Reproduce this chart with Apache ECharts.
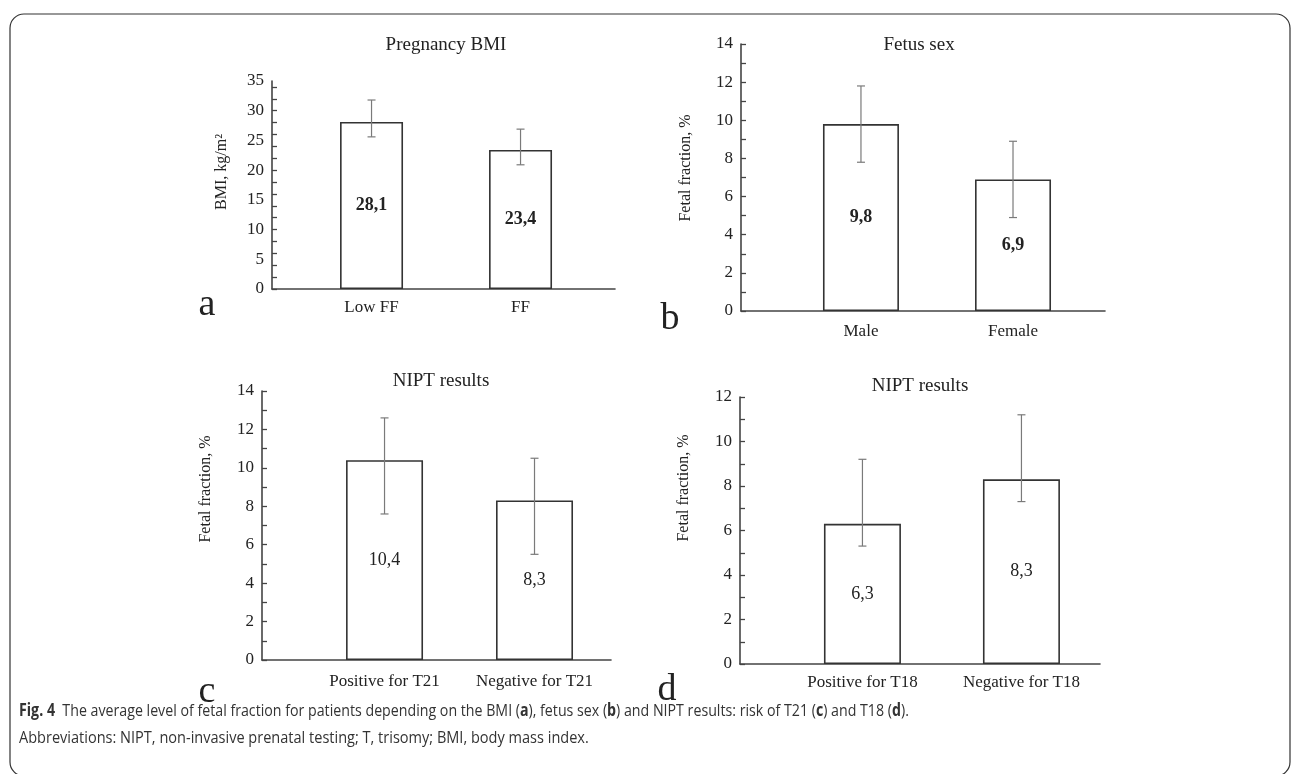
<!DOCTYPE html>
<html>
<head>
<meta charset="utf-8">
<script src="https://cdn.jsdelivr.net/npm/echarts@6/dist/echarts.min.js"></script>
<style>
html,body{margin:0;padding:0;background:#fff;}
#chart{width:1293px;height:774px;}
</style>
</head>
<body>
<div id="chart"></div>
<script>
// ---- data ----
const titles = ['Pregnancy BMI', 'Fetus sex', 'NIPT results', 'NIPT results'];
const yNames = ['BMI, kg/m²', 'Fetal fraction, %', 'Fetal fraction, %', 'Fetal fraction, %'];
const panelLetters = ['a', 'b', 'c', 'd'];

const catsA = ['Low FF', 'FF'];
const meanA = [28.1, 23.4];
const hiA = [31.8, 26.9];
const loA = [25.6, 20.9];

const catsB = ['Male', 'Female'];
const meanB = [9.8, 6.9];
const hiB = [11.8, 8.9];
const loB = [7.8, 4.9];

const catsC = ['Positive for T21', 'Negative for T21'];
const meanC = [10.4, 8.3];
const hiC = [12.6, 10.5];
const loC = [7.6, 5.5];

const catsD = ['Positive for T18', 'Negative for T18'];
const meanD = [6.3, 8.3];
const hiD = [9.2, 11.2];
const loD = [5.3, 7.3];

const labelsA = [0, 5, 10, 15, 20, 25, 30, 35];
const ticksA = [0, 2, 4, 6, 8, 10, 12, 14, 16, 18, 20, 22, 24, 26, 28, 30, 32, 34];
const labelsB = [0, 2, 4, 6, 8, 10, 12, 14];
const ticksB = [0, 1, 2, 3, 4, 5, 6, 7, 8, 9, 10, 11, 12, 13, 14];
const labelsC = [0, 2, 4, 6, 8, 10, 12, 14];
const ticksC = [0, 1, 2, 3, 4, 5, 6, 7, 8, 9, 10, 11, 12, 13, 14];
const labelsD = [0, 2, 4, 6, 8, 10, 12];
const ticksD = [0, 1, 2, 3, 4, 5, 6, 7, 8, 9, 10, 11, 12];

const captionLine1 = ['Fig. 4', 'The average level of fetal fraction for patients depending on the BMI (', 'a', '), fetus sex (', 'b', ') and NIPT results: risk of T21 (', 'c', ') and T18 (', 'd', ').'];
const captionLine2 = 'Abbreviations: NIPT, non-invasive prenatal testing; T, trisomy; BMI, body mass index.';

// ---- layout ----
const SERIF = '"Liberation Serif", "Times New Roman", serif';
const panels = [
  {cats: catsA, mean: meanA, hi: hiA, lo: loA, yMax: 35, labels: labelsA, ticks: ticksA,
   grid: {left: 272, top: 81, width: 343, height: 208}, xMin: -0.668, xMax: 1.634, barW: 63, lblMargin: 10, bold: true,
   title: [446, 45], name: [222, 172], letter: [207, 305]},
  {cats: catsB, mean: meanB, hi: hiB, lo: loB, yMax: 14, labels: labelsB, ticks: ticksB,
   grid: {left: 741, top: 44, width: 364, height: 267}, xMin: -0.789, xMax: 1.605, barW: 76, lblMargin: 12, bold: true,
   title: [919, 45], name: [686, 168], letter: [670, 319]},
  {cats: catsC, mean: meanC, hi: hiC, lo: loC, yMax: 14, labels: labelsC, ticks: ticksC,
   grid: {left: 262, top: 391, width: 349, height: 269}, xMin: -0.817, xMax: 1.51, barW: 77, lblMargin: 13, bold: false,
   title: [441, 381], name: [206, 489], letter: [207, 692]},
  {cats: catsD, mean: meanD, hi: hiD, lo: loD, yMax: 12, labels: labelsD, ticks: ticksD,
   grid: {left: 740, top: 397, width: 360, height: 267}, xMin: -0.770, xMax: 1.494, barW: 77, lblMargin: 10, bold: false,
   title: [920, 386], name: [684, 488], letter: [667, 690]}
];

const fmt = v => v.toFixed(1).replace('.', ',');

function errRender(params, api) {
  const x = api.value(0), lo = api.value(1), hi = api.value(2);
  const pLo = api.coord([x, lo]), pHi = api.coord([x, hi]);
  const hw = 4;
  const st = {stroke: '#7a7a7a', lineWidth: 1.2};
  return {type: 'group', children: [
    {type: 'line', shape: {x1: pLo[0], y1: pLo[1], x2: pHi[0], y2: pHi[1]}, style: st},
    {type: 'line', shape: {x1: pHi[0] - hw, y1: pHi[1], x2: pHi[0] + hw, y2: pHi[1]}, style: st},
    {type: 'line', shape: {x1: pLo[0] - hw, y1: pLo[1], x2: pLo[0] + hw, y2: pLo[1]}, style: st}
  ]};
}

const grids = [], xAxes = [], yAxes = [], series = [], graphics = [];
panels.forEach((p, i) => {
  grids.push(Object.assign({containLabel: false}, p.grid));
  xAxes.push({
    type: 'value', gridIndex: i, min: p.xMin, max: p.xMax,
    axisLine: {show: true, onZero: false, lineStyle: {color: '#444', width: 1.6}},
    axisTick: {show: false}, splitLine: {show: false},
    axisLabel: {customValues: [0, 1], formatter: v => p.cats[Math.round(v)],
      fontFamily: SERIF, fontSize: 17, color: '#222', margin: p.lblMargin}
  });
  yAxes.push({
    type: 'value', gridIndex: i, min: 0, max: p.yMax,
    axisLine: {show: true, onZero: false, lineStyle: {color: '#444', width: 1.6}},
    axisTick: {show: true, inside: true, length: 5, customValues: p.ticks, lineStyle: {color: '#444', width: 1.3}},
    axisLabel: {customValues: p.labels, fontFamily: SERIF, fontSize: 17, color: '#222', margin: 8},
    splitLine: {show: false}
  });
  series.push({
    type: 'bar', xAxisIndex: i, yAxisIndex: i, barWidth: p.barW,
    data: p.mean.map((v, k) => [k, v]),
    itemStyle: {color: '#fff', borderColor: '#333', borderWidth: 1.6},
    label: {show: true, position: 'inside', formatter: d => fmt(d.value[1]),
      fontFamily: SERIF, fontSize: 18, fontWeight: p.bold ? 'bold' : 'normal', color: '#222'},
    z: 2
  });
  series.push({
    type: 'custom', xAxisIndex: i, yAxisIndex: i, renderItem: errRender,
    data: p.mean.map((v, k) => [k, p.lo[k], p.hi[k]]),
    encode: {x: 0, y: [1, 2]}, z: 3
  });
  graphics.push({type: 'text', x: p.title[0], y: p.title[1],
    style: {text: titles[i], font: '19px ' + SERIF, fill: '#222', textAlign: 'center', textVerticalAlign: 'middle'}});
  graphics.push({type: 'text', x: p.name[0], y: p.name[1], rotation: Math.PI / 2,
    style: {text: yNames[i], font: '16px ' + SERIF, fill: '#222', textAlign: 'center', textVerticalAlign: 'middle'}});
  graphics.push({type: 'text', x: p.letter[0], y: p.letter[1],
    style: {text: panelLetters[i], font: '38px ' + SERIF, fill: '#222', textAlign: 'center', textVerticalAlign: 'middle'}});
});

// frame
graphics.push({type: 'rect', shape: {x: 10, y: 14, width: 1280, height: 762, r: 14},
  style: {fill: 'none', stroke: '#333', lineWidth: 1.2}, z: -1});

// caption
const CAP = '"Open Sans", "Noto Sans", sans-serif';
const cap1 = captionLine1.map((s, k) => {
  if (k === 0) return '{fig|' + s + '}';
  if (k === 1) return '{n|  ' + s + '}';
  return (k % 2 === 0) ? '{b|' + s + '}' : '{n|' + s + '}';
}).join('');
graphics.push({type: 'text', x: 19, y: 711, scaleX: 0.835,
  style: {text: cap1, textVerticalAlign: 'middle', fill: '#333',
    rich: {
      fig: {fontFamily: CAP, fontSize: 17, fontWeight: 'bold', fill: '#333'},
      n: {fontFamily: CAP, fontSize: 17, fill: '#333'},
      b: {fontFamily: CAP, fontSize: 17, fontWeight: 'bold', fill: '#333'}
    }}});
graphics.push({type: 'text', x: 19, y: 738, scaleX: 0.855,
  style: {text: captionLine2, font: '17px ' + CAP, fill: '#333', textVerticalAlign: 'middle'}});

const chart = echarts.init(document.getElementById('chart'));
chart.setOption({
  animation: false,
  grid: grids, xAxis: xAxes, yAxis: yAxes, series: series, graphic: graphics
});
</script>
</body>
</html>
